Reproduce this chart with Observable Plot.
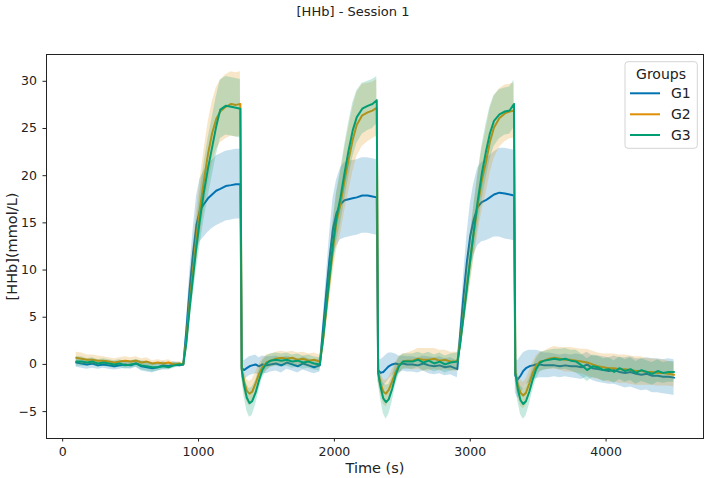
<!DOCTYPE html>
<html><head><meta charset="utf-8">
<script src="https://cdn.jsdelivr.net/npm/d3@7"></script>
<script src="https://cdn.jsdelivr.net/npm/@observablehq/plot@0.6"></script>
<style>
body{margin:0;background:#fff;font-family:"DejaVu Sans",sans-serif;}
#title{width:706px;height:30px;line-height:24px;text-align:center;font-size:13px;color:#222;}
</style></head><body>
<div id="title">[HHb] - Session 1</div>
<div id="chart"></div>
<script>
const groups = ["G1", "G2", "G3"];
const colors = ["#0173B2", "#DE8F05", "#029E73"];
const xTicks = [0, 1000, 2000, 3000, 4000];
const yTicks = [-5, 0, 5, 10, 15, 20, 25, 30];

const time = [
  100,140,180,220,260,300,340,380,420,460,500,540,580,620,660,700,740,780,820,860,888,
  910,935,960,985,1010,1040,1070,1100,1130,1160,1200,1240,1275,1308,
  1318,1335,1355,1375,1395,1420,1445,1470,1500,1530,
  1570,1610,1650,1690,1730,1770,1810,1850,1893,
  1915,1940,1965,1990,2015,2045,2075,2105,2135,2165,2205,2245,2280,2312,
  2322,2340,2360,2380,2400,2425,2450,2475,2505,2535,
  2575,2615,2655,2695,2735,2775,2815,2855,2905,
  2925,2950,2975,3000,3025,3055,3085,3115,3145,3175,3215,3255,3290,3322,
  3332,3350,3370,3390,3410,3435,3460,3485,3515,3545,
  3580,3620,3660,3700,3740,3780,3820,3860,3900,3940,3980,4020,4060,4100,4140,4180,4220,4260,4300,4340,4380,4420,4460,4500
];

const g1Mean = [
  0.2,0.1,0.0,0.1,-0.1,0.0,-0.1,-0.2,-0.1,0.0,-0.1,0.1,-0.2,-0.3,-0.4,-0.3,-0.1,-0.2,0.0,-0.1,0.0,
  3.5,8.0,11.8,14.8,16.3,17.0,17.6,18.0,18.4,18.6,18.9,19.0,19.1,19.1,
  -0.4,-0.6,-0.4,-0.2,-0.1,0.0,-0.2,0.0,-0.1,0.0,
  0.1,-0.1,0.2,0.0,-0.2,0.1,-0.1,-0.3,-0.1,
  3.5,7.5,11.3,14.4,16.0,17.0,17.4,17.5,17.6,17.7,17.9,17.9,17.8,17.7,
  -0.6,-0.9,-0.8,-0.5,-0.2,0.0,0.1,0.0,0.1,0.0,
  0.0,-0.1,0.1,-0.1,-0.2,-0.1,-0.3,-0.2,-0.5,
  3.0,7.2,10.8,13.6,15.3,16.7,17.2,17.4,17.7,18.0,18.2,18.1,18.0,17.9,
  -1.2,-1.6,-1.2,-0.7,-0.4,-0.2,-0.1,0.0,0.0,-0.1,
  -0.1,-0.1,-0.2,-0.1,-0.2,-0.2,-0.3,0.0,-0.4,-0.5,-0.6,-0.7,-0.6,-0.8,-0.9,-0.8,-1.0,-1.1,-1.0,-1.2,-1.2,-1.3,-1.3,-1.4
];
const g1Sd = [
  0.5,0.5,0.5,0.5,0.4,0.4,0.4,0.4,0.4,0.4,0.4,0.4,0.5,0.5,0.5,0.4,0.4,0.3,0.3,0.2,0.05,
  0.9,1.8,2.5,3.0,3.3,3.5,3.6,3.6,3.7,3.7,3.7,3.7,3.7,3.7,
  1.0,1.0,1.0,1.0,1.0,1.0,0.9,0.9,0.9,0.8,
  0.8,0.8,0.7,0.7,0.7,0.7,0.7,0.7,0.7,
  1.0,1.8,2.6,3.2,3.5,3.8,4.0,4.0,4.0,4.0,4.0,4.0,4.0,4.0,
  1.2,1.4,1.5,1.5,1.4,1.2,1.0,0.9,0.8,0.8,
  0.8,0.8,0.8,0.9,0.9,0.9,0.9,0.9,0.9,
  1.0,2.0,2.8,3.4,3.8,4.1,4.2,4.3,4.4,4.5,4.7,4.8,4.8,4.8,
  1.8,2.0,2.0,1.9,1.8,1.7,1.6,1.5,1.4,1.3,
  1.3,1.2,1.2,1.2,1.2,1.3,1.3,1.3,1.3,1.4,1.4,1.4,1.5,1.5,1.6,1.6,1.6,1.7,1.7,1.8,1.8,1.8,1.9,1.9
];

const g2Mean = [
  0.7,0.6,0.5,0.5,0.4,0.4,0.3,0.2,0.3,0.4,0.3,0.4,0.2,0.3,0.1,0.2,0.1,0.2,0.0,0.1,0.0,
  2.5,6.5,10.0,13.5,16.5,19.5,22.3,24.5,26.0,26.8,27.3,27.6,27.5,27.6,
  -0.5,-1.8,-2.8,-3.1,-2.9,-2.0,-1.0,-0.3,0.2,0.4,
  0.6,0.7,0.6,0.7,0.5,0.6,0.4,0.5,0.3,
  2.3,5.7,9.0,12.3,15.0,17.0,19.5,21.7,23.8,25.4,26.4,26.7,26.9,27.2,
  -0.8,-2.0,-2.9,-3.1,-2.7,-1.8,-0.8,-0.1,0.3,0.4,
  0.4,0.6,0.5,0.5,0.6,0.4,0.5,0.3,0.3,
  2.2,5.2,8.3,11.0,13.8,16.8,19.5,21.4,23.6,25.1,26.1,26.6,26.8,26.9,
  -0.8,-2.2,-3.0,-3.3,-3.0,-2.0,-0.9,-0.1,0.3,0.4,
  0.6,0.7,0.6,0.5,0.5,0.4,0.3,0.2,0.0,-0.2,-0.3,-0.4,-0.4,-0.5,-0.5,-0.6,-0.7,-0.7,-0.8,-0.8,-0.9,-0.9,-1.0,-1.1
];
const g2Sd = [
  0.6,0.6,0.5,0.5,0.5,0.4,0.4,0.4,0.4,0.4,0.4,0.4,0.4,0.4,0.3,0.3,0.3,0.3,0.2,0.2,0.05,
  0.9,1.7,2.3,2.7,3.0,3.2,3.3,3.3,3.3,3.3,3.4,3.4,3.4,3.4,
  0.9,1.1,1.2,1.3,1.3,1.2,1.0,0.9,0.8,0.7,
  0.7,0.7,0.7,0.7,0.7,0.7,0.7,0.7,0.7,
  1.0,1.7,2.3,2.7,3.0,3.2,3.3,3.4,3.4,3.4,3.3,3.1,3.0,3.0,
  1.0,1.2,1.3,1.4,1.3,1.2,1.0,0.9,0.8,0.8,
  1.0,1.1,1.2,1.2,1.1,1.1,1.0,1.0,1.0,
  1.0,1.6,2.2,2.6,2.9,3.1,3.3,3.4,3.4,3.3,3.1,3.0,2.9,2.9,
  1.0,1.2,1.4,1.4,1.4,1.3,1.1,1.0,1.0,1.0,
  1.1,1.2,1.2,1.3,1.3,1.3,1.3,1.4,1.4,1.4,1.4,1.5,1.5,1.5,1.5,1.5,1.5,1.5,1.4,1.4,1.4,1.4,1.3,1.3
];

const g3Mean = [
  0.3,0.3,0.2,0.3,0.1,0.2,0.1,0.0,0.1,-0.1,0.0,0.1,-0.1,-0.2,-0.3,-0.3,-0.2,-0.3,-0.1,0.0,0.0,
  2.2,6.0,9.3,12.5,15.3,18.3,20.8,23.0,25.2,27.0,27.4,27.3,27.2,27.1,
  -0.6,-2.2,-3.5,-4.1,-3.9,-3.0,-1.7,-0.6,0.1,0.4,
  0.5,0.4,0.5,0.3,0.4,0.2,0.3,0.1,0.0,
  2.5,6.0,9.5,12.8,15.5,17.7,20.3,22.7,24.8,26.2,27.1,27.4,27.6,28.0,
  -0.9,-2.4,-3.6,-4.0,-3.7,-2.6,-1.2,-0.2,0.3,0.3,
  0.3,0.5,0.2,0.4,0.1,0.3,0.0,0.2,0.3,
  2.0,5.0,8.0,11.1,14.0,17.3,20.2,22.5,24.5,25.8,26.5,26.8,26.9,27.6,
  -0.9,-2.6,-3.8,-4.2,-3.9,-2.9,-1.6,-0.5,0.2,0.4,
  0.5,0.6,0.5,0.6,0.4,0.3,-0.1,-0.6,-0.2,-0.3,-0.6,-0.5,-0.8,-0.4,-0.7,-0.5,-0.9,-0.6,-0.8,-1.0,-0.7,-0.9,-0.8,-0.8
];
const g3Sd = [
  0.5,0.5,0.4,0.4,0.4,0.4,0.4,0.4,0.4,0.4,0.4,0.4,0.5,0.5,0.5,0.4,0.4,0.3,0.3,0.2,0.05,
  0.8,1.5,2.1,2.5,2.8,3.0,3.1,3.1,3.1,3.1,3.1,3.1,3.1,3.1,
  0.9,1.2,1.4,1.5,1.5,1.3,1.1,0.9,0.8,0.7,
  0.7,0.7,0.7,0.7,0.7,0.7,0.7,0.7,0.7,
  0.9,1.5,2.0,2.4,2.6,2.8,2.9,2.9,2.9,2.8,2.7,2.6,2.6,2.5,
  1.0,1.3,1.6,1.8,1.6,1.4,1.1,0.9,0.8,0.8,
  0.8,0.8,0.9,0.9,0.9,0.9,0.9,0.9,0.9,
  0.9,1.4,1.9,2.3,2.6,2.8,2.9,2.9,2.8,2.7,2.6,2.5,2.5,2.5,
  1.0,1.3,1.5,1.6,1.6,1.4,1.2,1.1,1.0,1.0,
  1.0,1.0,1.1,1.1,1.1,1.2,1.2,1.2,1.2,1.2,1.2,1.2,1.2,1.2,1.2,1.2,1.2,1.2,1.2,1.2,1.2,1.1,1.1,1.1
];

const means = [g1Mean, g2Mean, g3Mean];
const sds = [g1Sd, g2Sd, g3Sd];
const series = groups.map((g, i) => time.map((t, j) => ({
  t, g, m: means[i][j], lo: means[i][j] - sds[i][j], hi: means[i][j] + sds[i][j]
})));

const dataMarks = [];
series.forEach((rows, i) => {
  dataMarks.push(Plot.areaY(rows, {x: "t", y1: "lo", y2: "hi", fill: colors[i], fillOpacity: 0.22}));
  dataMarks.push(Plot.lineY(rows, {x: "t", y: "m", stroke: colors[i], strokeWidth: 2}));
});

const chart = Plot.plot({
  width: 706, height: 448,
  marginTop: 24, marginBottom: 40, marginLeft: 46, marginRight: 3,
  style: {fontFamily: "DejaVu Sans", background: "#fff", color: "#222", overflow: "visible"},
  x: {domain: [-119, 4717]},
  y: {domain: [-7.85, 32.84]},
  marks: [
    ...dataMarks,
    Plot.frame({stroke: "#222", strokeWidth: 1}),
    Plot.axisX({ticks: xTicks, tickSize: 3.5, tickPadding: 5, fontSize: 12.5, label: null, tickFormat: d3.format("d")}),
    Plot.axisY({ticks: yTicks, tickSize: 3.5, tickPadding: 6, fontSize: 12.5, label: null}),
    Plot.text(["Time (s)"], {text: d => d, frameAnchor: "bottom", dy: 29.5, fontSize: 14.5, textAnchor: "middle", lineAnchor: "middle", fill: "#222"}),
    Plot.text(["[HHb](mmol/L)"], {text: d => d, frameAnchor: "left", dx: -34, rotate: -90, fontSize: 14.5, textAnchor: "middle", lineAnchor: "middle", fill: "#222"})
  ]
});
document.getElementById("chart").appendChild(chart);

// legend
const svg = d3.select(chart);
const lg = svg.append("g").attr("font-family", "DejaVu Sans");
lg.append("rect").attr("x", 625).attr("y", 31.7).attr("width", 72.3).attr("height", 86.6)
  .attr("rx", 3).attr("fill", "#fff").attr("fill-opacity", 0.85).attr("stroke", "#d4d4d4");
lg.append("text").attr("x", 661).attr("y", 44).attr("text-anchor", "middle")
  .attr("dominant-baseline", "central").attr("font-size", 14).attr("fill", "#222").text("Groups");
const rowsY = [63.3, 84.3, 105];
groups.forEach((g, i) => {
  lg.append("line").attr("x1", 630).attr("x2", 660).attr("y1", rowsY[i]).attr("y2", rowsY[i])
    .attr("stroke", colors[i]).attr("stroke-width", 2);
  lg.append("text").attr("x", 671).attr("y", rowsY[i]).attr("text-anchor", "start")
    .attr("dominant-baseline", "central").attr("font-size", 14).attr("fill", "#222").text(g);
});
</script>
</body></html>
